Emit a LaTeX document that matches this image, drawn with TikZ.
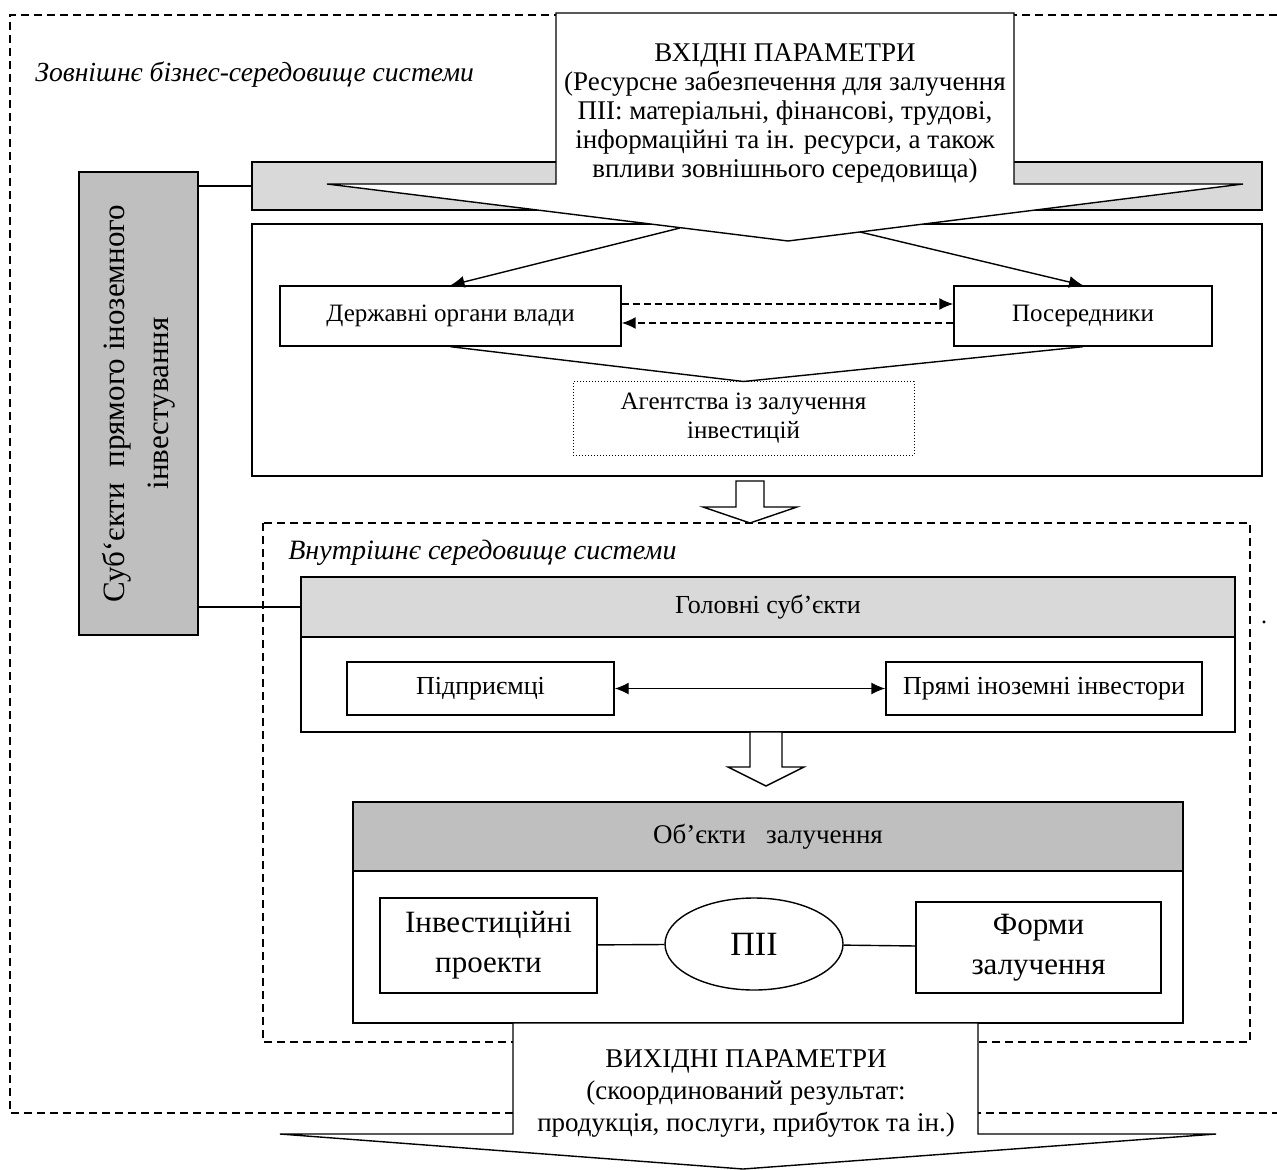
\documentclass[tikz,border=0pt]{standalone}
\usepackage{fontspec}
\setmainfont{Liberation Serif}
\usetikzlibrary{positioning,calc,shapes.geometric,arrows.meta}
\definecolor{lightgr}{gray}{0.85}
\definecolor{darkgr}{gray}{0.75}

\begin{document}
\begin{tikzpicture}[x=0.5pt, y=-0.5pt, line width=0.7pt,
    box/.style={draw, fill=white, inner sep=2pt, align=center, font=\fontsize{12.5}{14.5}\selectfont},
    bigbox/.style={draw, fill=white, inner sep=2pt, align=center, font=\fontsize{15.5}{20}\selectfont},
    envline/.style={line width=0.6pt, dash pattern=on 4pt off 2.5pt},
    envlabel/.style={anchor=west, font=\fontsize{13.8}{16}\selectfont\itshape},
    tip/.style={-{Latex[length=7pt,width=6pt]}},
    hollow/.style={draw, fill=white, line width=0.7pt}]
    \useasboundingbox (0,0) rectangle (1277,1170);

    % зовнішнє середовище
    \draw[envline] (1277,15) -- (10,15) -- (10,1113) -- (1277,1113);
    \node[envlabel] (zovn) at (28,75) {Зовнішнє бізнес-середовище системи};

    % смуга і верхній блок
    \node[draw, fill=lightgr, minimum width=505pt, minimum height=24pt, inner sep=0pt] (band) at (757,186) {};
    \node[draw, minimum width=505pt, minimum height=126pt, inner sep=0pt] (top) at (757,350) {};

    % вхідні параметри
    \draw[fill=white] (556,13) -- (1014,13) -- (1014,184) -- (1243,184) -- (788,241)
        -- (327,184) -- (556,184) -- cycle;
    \node[align=center, font=\fontsize{13.5}{14.5}\selectfont] (vhid) at (785,113)
        {ВХІДНІ ПАРАМЕТРИ\\(Ресурсне забезпечення для залучення\\ПІІ: матеріальні, фінансові, трудові,\\інформаційні та ін. ресурси, а також\\впливи зовнішнього середовища)};

    % суб'єкти
    \node[draw, fill=darkgr, minimum width=59.5pt, minimum height=231.5pt, inner sep=0pt] (subj) at (138.5,403.5) {};
    \node[rotate=90, align=center, font=\fontsize{15.5}{22}\selectfont] (subjtext) at (subj.center)
        {Суб‘єкти\ \ прямого іноземного\\інвестування};
    \draw (subj.east |- band.west) -- (band.west);

    % органи влади, посередники, агентства
    \node[box, minimum width=170.5pt, minimum height=30pt] (derzh) at (450.5,316) {Державні органи влади};
    \node[box, minimum width=129pt, minimum height=30pt] (poser) at (1083,316) {Посередники};
    \node[box, line width=0.5pt, dash pattern=on 0.6pt off 0.9pt, minimum width=170.5pt, minimum height=36.5pt]
        (agent) at (743.5,418.5) {Агентства із залучення\\інвестицій};
    \coordinate (vl) at (680,228);
    \coordinate (vr) at (860,232);
    \draw[tip] (vl) -- (derzh.north);
    \draw[tip] (vr) -- (poser.north);
    \draw[tip, line width=0.8pt, dash pattern=on 3.5pt off 2pt] ([yshift=6pt]derzh.east) -- ([yshift=6pt]poser.west);
    \draw[tip, line width=0.8pt, dash pattern=on 3.5pt off 2pt] ([yshift=-3.5pt]poser.west) -- ([yshift=-3.5pt]derzh.east);
    \draw (derzh.south) -- (agent.north) -- (poser.south);

    % внутрішнє середовище
    \draw[envline] (263,523) rectangle (1250,1042);
    \draw[hollow] (736,481) -- (764,481) -- (764,507) -- (797,507) -- (750,523) -- (703,507) -- (736,507) -- cycle;
    \node[envlabel, font=\fontsize{14}{16}\selectfont\itshape] (vnutr) at (281,553) {Внутрішнє середовище системи};
    \node[font=\fontsize{12}{12}\selectfont, inner sep=0pt] (dot) at (1264,622) {.};

    % головні суб'єкти
    \node[draw, fill=white, minimum width=467pt, minimum height=77.5pt, inner sep=0pt] (golov) at (768,654.5) {};
    \node[draw, fill=lightgr, minimum width=467pt, minimum height=30pt, inner sep=0pt, anchor=north,
        font=\fontsize{13}{15}\selectfont] (golovhead) at (golov.north) {Головні суб’єкти};
    \node[box, font=\fontsize{13}{15}\selectfont, minimum width=133.5pt, minimum height=26.5pt] (pidpr) at (480.5,688.5) {Підприємці};
    \node[box, font=\fontsize{13}{15}\selectfont, minimum width=158pt, minimum height=26.5pt] (pryami) at (1044,688.5) {Прямі іноземні інвестори};
    \draw[{Latex[length=7pt,width=6pt]}-{Latex[length=7pt,width=6pt]}] (pidpr) -- (pryami);
    \draw (subj.east |- golovhead.west) -- (golovhead.west);
    \draw[hollow] (750,732) -- (782,732) -- (782,767) -- (804,767) -- (766,786) -- (728,767) -- (750,767) -- cycle;

    % об'єкти залучення
    \node[draw, fill=white, minimum width=415pt, minimum height=110.5pt, inner sep=0pt] (obj) at (768,912.5) {};
    \node[draw, fill=darkgr, minimum width=415pt, minimum height=34.5pt, inner sep=0pt, anchor=north,
        font=\fontsize{13.5}{15}\selectfont] (objhead) at (obj.north) {Об’єкти\ \ \ залучення};
    \node[bigbox, minimum width=108.5pt, minimum height=47.5pt] (invpr) at (488.5,945.5) {Інвестиційні\\проекти};
    \node[draw, ellipse, fill=white, minimum width=89pt, minimum height=46pt, inner sep=0pt,
        font=\fontsize{17}{19}\selectfont] (pii) at (754,944) {ПІІ};
    \node[bigbox, minimum width=122.5pt, minimum height=45.5pt] (formy) at (1038.5,947.5) {Форми\\залучення};
    \draw (invpr) -- (pii) -- (formy);

    % вихідні параметри
    \draw[fill=white] (513,1023) -- (978,1023) -- (978,1134) -- (1216,1134) -- (743,1169)
        -- (280,1134) -- (513,1134) -- cycle;
    \node[align=center, font=\fontsize{13.5}{16}\selectfont] (vyhid) at (746,1093)
        {ВИХІДНІ ПАРАМЕТРИ\\(скоординований результат:\\продукція, послуги, прибуток та ін.)};
\end{tikzpicture}
\end{document}
